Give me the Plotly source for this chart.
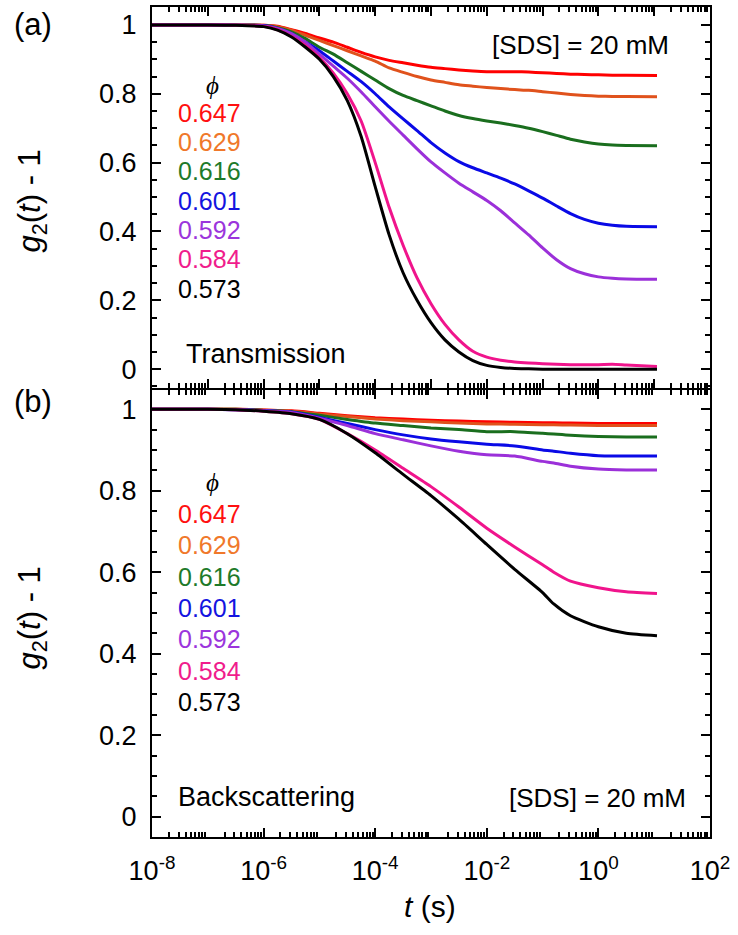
import plotly.graph_objects as go

# ---------------- data ----------------
PHI = ["0.647", "0.629", "0.616", "0.601", "0.592", "0.584", "0.573"]
LINE_COLORS = ["#FF0000", "#E0521C", "#1A6E1E", "#0A0AE6", "#9B30D9", "#F0148C", "#000000"]
TEXT_COLORS = ["#FF1010", "#F0782A", "#1E7A2A", "#1414E0", "#9B35DC", "#F01C8C", "#000000"]

# panel (a): Transmission, exponents of t (s)
LOG_T_A = [-8, -7, -6.5, -6, -5.75, -5.5, -5.25, -5, -4.75, -4.5, -4.25, -4, -3.75, -3.5,
           -3.25, -3, -2.75, -2.5, -2.25, -2, -1.75, -1.5, -1.25, -1, -0.75, -0.5, -0.25,
           0, 0.25, 0.5, 1.05]
A_0647 = [1.0, 1.0, 1.0, 0.999, 0.996, 0.986, 0.975, 0.962, 0.95, 0.935, 0.92, 0.907, 0.897, 0.89,
          0.883, 0.877, 0.873, 0.869, 0.866, 0.864, 0.864, 0.864, 0.863, 0.861, 0.859, 0.857, 0.856,
          0.855, 0.854, 0.854, 0.853]
A_0629 = [1.0, 1.0, 1.0, 0.999, 0.995, 0.985, 0.97, 0.955, 0.94, 0.925, 0.91, 0.895, 0.875, 0.862,
          0.85, 0.84, 0.833, 0.826, 0.822, 0.818, 0.815, 0.812, 0.81, 0.806, 0.802, 0.798, 0.795,
          0.793, 0.792, 0.792, 0.791]
A_0616 = [1.0, 1.0, 0.999, 0.998, 0.992, 0.98, 0.96, 0.935, 0.915, 0.89, 0.865, 0.84, 0.815, 0.795,
          0.78, 0.765, 0.75, 0.737, 0.728, 0.721, 0.715, 0.708, 0.70, 0.69, 0.679, 0.668, 0.66,
          0.654, 0.651, 0.65, 0.649]
A_0601 = [1.0, 1.0, 0.999, 0.998, 0.99, 0.975, 0.95, 0.925, 0.895, 0.865, 0.835, 0.80, 0.762, 0.727,
          0.693, 0.658, 0.628, 0.603, 0.585, 0.57, 0.555, 0.538, 0.518, 0.497, 0.474, 0.452, 0.435,
          0.424, 0.418, 0.415, 0.414]
A_0592 = [1.0, 1.0, 0.999, 0.997, 0.99, 0.975, 0.95, 0.915, 0.88, 0.845, 0.805, 0.762, 0.72, 0.68,
          0.64, 0.602, 0.57, 0.54, 0.515, 0.49, 0.46, 0.425, 0.39, 0.352, 0.318, 0.292, 0.277,
          0.268, 0.264, 0.262, 0.261]
A_0584 = [1.0, 1.0, 0.999, 0.996, 0.986, 0.967, 0.94, 0.905, 0.86, 0.80, 0.72, 0.60, 0.47, 0.36,
          0.265, 0.19, 0.13, 0.085, 0.052, 0.035, 0.026, 0.021, 0.018, 0.016, 0.014, 0.013, 0.013,
          0.013, 0.014, 0.012, 0.008]
A_0573 = [1.0, 1.0, 0.999, 0.995, 0.985, 0.965, 0.935, 0.90, 0.85, 0.78, 0.675, 0.53, 0.39, 0.28,
          0.2, 0.135, 0.085, 0.05, 0.025, 0.011, 0.005, 0.002, 0.001, 0.0, 0.0, 0.0, 0.0,
          0.0, 0.0, 0.0, 0.0]

# panel (b): Backscattering
LOG_T_B = [-8, -7, -6.5, -6, -5.5, -5, -4.5, -4, -3.5, -3, -2.5, -2, -1.5, -1, -0.8, -0.5, 0, 0.5, 1.05]
B_0647 = [1.0, 1.0, 1.0, 0.998, 0.996, 0.99, 0.984, 0.979, 0.976, 0.973, 0.971, 0.969, 0.968, 0.967,
          0.967, 0.966, 0.965, 0.965, 0.965]
B_0629 = [1.0, 1.0, 1.0, 0.998, 0.995, 0.988, 0.982, 0.976, 0.972, 0.969, 0.966, 0.964, 0.963, 0.962,
          0.962, 0.961, 0.96, 0.96, 0.96]
B_0616 = [1.0, 1.0, 1.0, 0.997, 0.994, 0.985, 0.975, 0.966, 0.96, 0.954, 0.95, 0.945, 0.945, 0.941,
          0.939, 0.936, 0.933, 0.932, 0.932]
B_0601 = [1.0, 1.0, 0.999, 0.997, 0.993, 0.98, 0.965, 0.95, 0.937, 0.927, 0.92, 0.914, 0.91, 0.90,
          0.897, 0.892, 0.886, 0.885, 0.885]
B_0592 = [1.0, 1.0, 0.999, 0.996, 0.992, 0.978, 0.96, 0.94, 0.925, 0.91, 0.897, 0.888, 0.885, 0.872,
          0.868, 0.86, 0.853, 0.851, 0.851]
B_0584 = [1.0, 1.0, 0.999, 0.995, 0.989, 0.975, 0.94, 0.90, 0.855, 0.81, 0.76, 0.708, 0.662, 0.618,
          0.60, 0.578, 0.562, 0.552, 0.548]
B_0573 = [1.0, 1.0, 0.999, 0.995, 0.989, 0.975, 0.94, 0.893, 0.84, 0.788, 0.73, 0.668, 0.607, 0.55,
          0.522, 0.493, 0.466, 0.45, 0.444]

X_DECADES = list(range(-8, 3))
X_LABEL_DECADES = [-8, -6, -4, -2, 0, 2]
Y_TICKS = [0, 0.2, 0.4, 0.6, 0.8, 1.0]
Y_TICKTEXT = ["0", "0.2", "0.4", "0.6", "0.8", "1"]

# ---------------- figure ----------------
W, H = 738, 935
ML, MR, MT, MB = 152, 28, 5, 98
PW, PH = W - ML - MR, H - MT - MB
FONT = "Liberation Sans, Arial, sans-serif"


def px(x):
    return (x - ML) / PW


def py(y):
    return (H - MB - y) / PH


T_A = [10 ** e for e in LOG_T_A]
T_B = [10 ** e for e in LOG_T_B]
SER_A = [A_0647, A_0629, A_0616, A_0601, A_0592, A_0584, A_0573]
SER_B = [B_0647, B_0629, B_0616, B_0601, B_0592, B_0584, B_0573]

fig = go.Figure()
for vals, col, lab in zip(SER_A, LINE_COLORS, PHI):
    fig.add_trace(go.Scatter(x=T_A, y=vals, mode="lines", name=lab, xaxis="x", yaxis="y",
                             line=dict(color=col, width=3, shape="spline", smoothing=0.6),
                             showlegend=False))
for vals, col, lab in zip(SER_B, LINE_COLORS, PHI):
    fig.add_trace(go.Scatter(x=T_B, y=vals, mode="lines", name=lab, xaxis="x2", yaxis="y2",
                             line=dict(color=col, width=3, shape="spline", smoothing=0.6),
                             showlegend=False))

x_all = [10 ** e for e in X_DECADES]
x_lab = [10 ** e for e in X_LABEL_DECADES]
x_lab_text = ["10<sup>%d</sup>" % e for e in X_LABEL_DECADES]
x_odd = [10 ** e for e in X_DECADES if e not in X_LABEL_DECADES]
x_minor = [m * 10 ** e for e in X_DECADES[:-1] for m in range(2, 10)]
x_range = [X_DECADES[0], X_DECADES[-1]]

tickstyle = dict(ticks="inside", ticklen=9, tickwidth=2, tickcolor="black")
minor_x = dict(tickmode="array", tickvals=x_minor, ticks="inside", ticklen=5,
               tickwidth=1.5, tickcolor="black", showgrid=False)
xcommon = dict(type="log", range=x_range, tickmode="array",
               showline=True, linewidth=2, linecolor="black", mirror="allticks",
               showgrid=False, zeroline=False, minor=minor_x,
               tickfont=dict(family=FONT, size=27, color="black"), **tickstyle)
ycommon = dict(tickmode="array", tickvals=Y_TICKS, ticktext=Y_TICKTEXT,
               showline=True, linewidth=2, linecolor="black", mirror="allticks",
               showgrid=False, zeroline=False, ticklabelstandoff=8,
               minor=dict(dtick=0.05, tick0=0, ticks="inside", ticklen=5, tickwidth=1.5,
                          tickcolor="black", showgrid=False),
               tickfont=dict(family=FONT, size=27, color="black"), **tickstyle)

top_bottom = py(387)
bot_top = py(389)

fig.update_layout(
    width=W, height=H,
    margin=dict(l=ML, r=MR, t=MT, b=MB),
    paper_bgcolor="white", plot_bgcolor="white",
    font=dict(family=FONT, color="black"),
    xaxis=dict(xcommon, anchor="y", domain=[0, 1], tickvals=x_all, showticklabels=False),
    yaxis=dict(ycommon, anchor="x", domain=[top_bottom, 1], range=[-0.055, 1.052]),
    xaxis2=dict(xcommon, anchor="y2", domain=[0, 1], tickvals=x_lab, ticktext=x_lab_text,
                ticklabelstandoff=9),
    # unlabelled major ticks at the odd decades of the lower panel
    xaxis3=dict(type="log", range=x_range, overlaying="x2", anchor="y2", side="bottom",
                tickmode="array", tickvals=x_odd, showticklabels=False, showline=False,
                mirror="ticks", showgrid=False, zeroline=False, **tickstyle),
    yaxis2=dict(ycommon, anchor="x2", domain=[0, bot_top], range=[-0.05, 1.047]),
)

ann = []


def add_text(x, y, text, size, color="black", xanchor="left", family=FONT, angle=0):
    ann.append(dict(x=px(x), y=py(y), xref="paper", yref="paper", text=text, showarrow=False,
                    xanchor=xanchor, yanchor="middle", textangle=angle,
                    font=dict(family=family, size=size, color=color)))


# panel labels
add_text(12, 23, "(a)", 31)
add_text(12, 400, "(b)", 31)

# y titles
ytitle = "<i>g</i><sub>2</sub>(<i>t</i>) - 1"
add_text(32, 200, ytitle, 31, xanchor="center", angle=-90)
add_text(32, 618, ytitle, 31, xanchor="center", angle=-90)

# x title
add_text(430, 907, "<i>t</i>\u00a0(s)", 30, xanchor="center")

# legends (phi lists)
SERIF = "Liberation Serif, Times New Roman, serif"
add_text(212, 84, "<i>ϕ</i>", 25, xanchor="center", family=SERIF)
for i, (lab, col) in enumerate(zip(PHI, TEXT_COLORS)):
    add_text(176, 111 + i * 29.4, lab, 25, color=col)
add_text(212, 482, "<i>ϕ</i>", 25, xanchor="center", family=SERIF)
for i, (lab, col) in enumerate(zip(PHI, TEXT_COLORS)):
    add_text(176, 513 + i * 31.5, lab, 25, color=col)

# panel notes
add_text(184, 353, "Transmission", 27)
add_text(176, 797, "Backscattering", 27)
add_text(671, 43, "[SDS] = 20 mM", 26, xanchor="right")
add_text(688, 798, "[SDS] = 20 mM", 26, xanchor="right")

fig.update_layout(annotations=ann)
fig.write_html("out.html", config={"displayModeBar": False},
               post_script="document.body.style.margin='0px';")
